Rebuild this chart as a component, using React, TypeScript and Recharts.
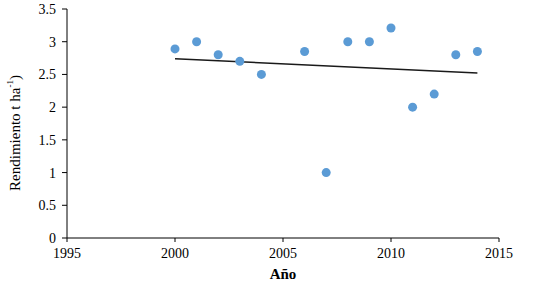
import React from 'react';
import { ScatterChart, Scatter, XAxis, YAxis } from 'recharts';

const years = [2000, 2001, 2002, 2003, 2004, 2006, 2007, 2008, 2009, 2010, 2011, 2012, 2013, 2014];
const yields = [2.89, 3.0, 2.8, 2.7, 2.5, 2.85, 1.0, 3.0, 3.0, 3.21, 2.0, 2.2, 2.8, 2.85];
const trendYears = [2000, 2014];
const trendValues = [2.74, 2.52];
const xTicks = [1995, 2000, 2005, 2010, 2015];
const yTicks = [0, 0.5, 1, 1.5, 2, 2.5, 3, 3.5];

const points = years.map((x, i) => ({ x, y: yields[i] }));
const trend = trendYears.map((x, i) => ({ x, y: trendValues[i] }));

const FONT = 'Liberation Serif, Times New Roman, serif';

const YLabel = () => (
  <text
    x={15}
    y={133}
    transform="rotate(-90, 15, 133)"
    textAnchor="middle"
    dominantBaseline="central"
    style={{ fontFamily: FONT, fontSize: 15 }}
    fill="#000"
  >
    Rendimiento  t ha
    <tspan baselineShift="super" style={{ fontSize: 9 }}>-1</tspan>
    <tspan>)</tspan>
  </text>
);

const XLabel = () => (
  <text x={283} y={279} textAnchor="middle" style={{ fontFamily: FONT, fontSize: 15, fontWeight: 'bold' }} fill="#000">
    Año
  </text>
);

const tickStyle = { fill: '#000', fontFamily: FONT, fontSize: 14, style: { fontFamily: FONT } } as any;

export default function App() {
  return (
    <div style={{ position: 'absolute', left: 0, top: 0, background: '#fff', fontFamily: FONT }}>
      <ScatterChart width={539} height={287} margin={{ top: 9, right: 40, bottom: 0, left: 0 }} style={{ fontFamily: FONT }}>
        <XAxis
          type="number"
          dataKey="x"
          domain={[1995, 2015]}
          ticks={xTicks}
          allowDataOverflow
          height={49}
          tickSize={4}
          tickMargin={6}
          stroke="#000"
          tick={tickStyle}
          axisLine={{ stroke: '#000' }}
          tickLine={{ stroke: '#000' }}
          label={<XLabel />}
        />
        <YAxis
          type="number"
          dataKey="y"
          domain={[0, 3.5]}
          ticks={yTicks}
          width={67}
          tickSize={5}
          tickMargin={6}
          tick={tickStyle}
          axisLine={{ stroke: '#000' }}
          tickLine={{ stroke: '#000' }}
          label={<YLabel />}
        />
        <Scatter
          data={trend}
          line={{ stroke: '#1a1a1a', strokeWidth: 1.5 }}
          shape={() => null}
          isAnimationActive={false}
        />
        <Scatter
          data={points}
          fill="#5B9BD5"
          shape={(p: any) => <circle cx={p.cx} cy={p.cy} r={4.5} fill="#5B9BD5" />}
          isAnimationActive={false}
        />
      </ScatterChart>
    </div>
  );
}
